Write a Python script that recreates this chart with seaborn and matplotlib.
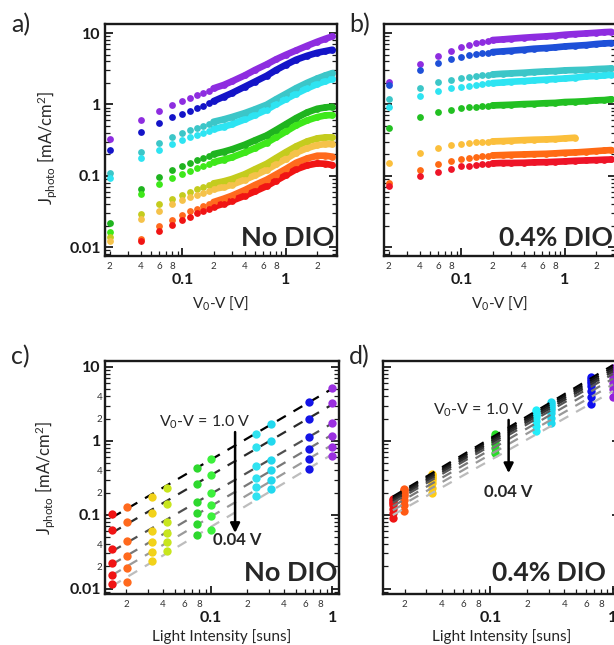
import numpy as np
import pandas as pd
import seaborn as sns
import matplotlib
matplotlib.use("Agg")
import matplotlib.pyplot as plt
from matplotlib.ticker import LogLocator, FuncFormatter

sns.set_theme(style="white")
plt.rcParams["font.family"] = ["Lato", "DejaVu Sans"]
plt.rcParams["mathtext.fontset"] = "custom"
plt.rcParams["mathtext.rm"] = "Lato"
plt.rcParams["mathtext.it"] = "Lato:italic"
plt.rcParams["mathtext.bf"] = "Lato:bold"

nan = np.nan

# ---------------------------------------------------------------- data
# effective bias V0-V [V] shared by panels a) and b)
V_GRID = [0.02, 0.04, 0.06, 0.08, 0.10, 0.12, 0.14, 0.16, 0.18, 0.20, 0.25, 0.30,
          0.40, 0.50, 0.65, 0.80, 1.00, 1.25, 1.60, 2.00, 2.40, 2.80]
DENSE_FROM = 0.20  # above this bias the measured points merge into a band

# a) photocurrent, no DIO (one list per light intensity, high to low)
a_purple = [0.327, 0.604, 0.815, 0.979, 1.11, 1.23, 1.34, 1.44, 1.55, 1.68, 1.87, 2.10,
            2.55, 3.03, 3.64, 4.28, 4.97, 5.71, 6.64, 7.56, 8.33, 8.98]
a_blue = [0.229, 0.405, 0.542, 0.658, 0.740, 0.815, 0.879, 0.948, 1.03, 1.11, 1.28, 1.44,
          1.77, 2.08, 2.52, 3.03, 3.60, 4.23, 4.81, 5.30, 5.59, 5.84]
a_teal = [0.110, 0.217, 0.290, 0.352, 0.392, 0.432, 0.461, 0.497, 0.530, 0.571, 0.616, 0.664,
          0.756, 0.851, 0.989, 1.18, 1.41, 1.69, 2.01, 2.31, 2.55, 2.75]
a_cyan = [0.0918, 0.177, 0.229, 0.275, 0.316, 0.345, 0.367, 0.392, 0.418, 0.451, 0.487, 0.525,
          0.616, 0.708, 0.842, 1.00, 1.19, 1.41, 1.68, 1.93, 2.12, 2.29]
a_green = [0.0219, 0.0650, 0.0968, 0.120, 0.138, 0.152, 0.166, 0.177, 0.189, 0.201, 0.217, 0.234,
           0.272, 0.313, 0.367, 0.437, 0.530, 0.643, 0.773, 0.869, 0.908, 0.927]
a_lime = [0.0164, 0.0547, 0.0773, 0.0927, 0.105, 0.117, 0.127, 0.137, 0.146, 0.155, 0.168, 0.181,
          0.212, 0.244, 0.290, 0.345, 0.418, 0.508, 0.597, 0.664, 0.702, 0.708]
a_olive = [0.0137, 0.0287, 0.0396, 0.0466, 0.0536, 0.0597, 0.0643, 0.0686, 0.0732, 0.0781, 0.0834, 0.0898,
           0.105, 0.123, 0.147, 0.177, 0.215, 0.258, 0.303, 0.334, 0.345, 0.345]
a_amber = [0.0123, 0.0244, 0.0323, 0.0396, 0.0451, 0.0497, 0.0536, 0.0571, 0.0610, 0.0650, 0.0693, 0.0748,
           0.0879, 0.101, 0.121, 0.144, 0.173, 0.210, 0.244, 0.269, 0.278, 0.278]
a_orange = [nan, 0.0129, 0.0199, 0.0239, 0.0284, 0.0316, 0.0345, 0.0376, 0.0401, 0.0428, 0.0476, 0.0524,
            0.0630, 0.0740, 0.0879, 0.104, 0.125, 0.152, 0.175, 0.191, 0.191, 0.185]
a_red = [nan, 0.0123, 0.0168, 0.0203, 0.0239, 0.0266, 0.0296, 0.0323, 0.0345, 0.0367, 0.0405, 0.0446,
         0.0524, 0.0603, 0.0716, 0.0851, 0.102, 0.123, 0.140, 0.149, 0.147, 0.141]
A_SERIES = [a_purple, a_blue, a_teal, a_cyan, a_green, a_lime, a_olive, a_amber, a_orange, a_red]
A_COLORS = ["#8e2de0", "#1414c8", "#3cc6c8", "#2ee4f2", "#1fb41f", "#3ee81a",
            "#c4cc1e", "#f5c24a", "#ff6a1e", "#f01414"]

# b) photocurrent, 0.4% DIO
b_purple = [2.08, 3.64, 4.81, 5.65, 6.30, 6.86, 7.16, 7.48, 7.73, 7.98, 8.15, 8.33,
            8.60, 8.79, 8.98, 9.18, 9.48, 9.68, 9.89, 10.1, 10.3, 10.4]
b_blue = [1.87, 3.03, 3.76, 4.32, 4.66, 4.92, 5.08, 5.19, 5.30, 5.42, 5.54, 5.65,
          5.84, 6.03, 6.16, 6.30, 6.50, 6.64, 6.79, 7.02, 7.16, 7.24]
b_teal = [1.19, 1.68, 2.03, 2.19, 2.31, 2.42, 2.50, 2.55, 2.61, 2.63, 2.69, 2.72,
          2.78, 2.84, 2.90, 2.93, 3.00, 3.03, 3.06, 3.13, 3.16, 3.20]
b_cyan = [0.908, 1.31, 1.55, 1.68, 1.77, 1.83, 1.89, 1.93, 1.97, 1.99, 2.03, 2.08,
          2.12, 2.17, 2.22, 2.27, 2.31, 2.37, 2.47, 2.50, 2.55, 2.61]
b_green = [0.471, 0.664, 0.781, 0.842, 0.879, 0.908, 0.927, 0.948, 0.958, 0.968, 0.979, 0.989,
           1.01, 1.02, 1.04, 1.05, 1.08, 1.09, 1.11, 1.14, 1.15, 1.18]
b_amber = [0.152, 0.210, 0.247, 0.266, 0.281, 0.287, 0.293, 0.296, 0.300, 0.303, 0.306, 0.310,
           0.316, 0.320, 0.323, 0.327, 0.334, 0.341, nan, nan, nan, nan]
b_orange = [0.0798, 0.121, 0.146, 0.159, 0.169, 0.177, 0.183, 0.187, 0.191, 0.193, 0.195, 0.197,
            0.199, 0.201, 0.203, 0.206, 0.210, 0.212, 0.217, 0.222, 0.226, 0.229]
b_red = [0.0708, 0.098, 0.114, 0.125, 0.135, 0.138, 0.141, 0.144, 0.147, 0.149, 0.151, 0.151,
         0.152, 0.154, 0.155, 0.157, 0.159, 0.162, 0.164, 0.166, 0.168, 0.169]
B_SERIES = [b_purple, b_blue, b_teal, b_cyan, b_green, b_amber, b_orange, b_red]
B_COLORS = ["#8e2de0", "#1e50d8", "#3cc6c8", "#2ee4f2", "#22c022", "#fbbf3c", "#ff6a14", "#ee1428"]

# c) photocurrent vs light intensity, no DIO; each row: V0-V = 1.0 V ... 0.04 V
C_INTENSITY = [0.0152, 0.0202, 0.0325, 0.0433, 0.0766, 0.100, 0.235, 0.313, 0.645, 1.0]
C_J = [
    [0.102, 0.0626, 0.0343, 0.0222, 0.0155, 0.0117],
    [0.126, 0.0796, 0.0437, 0.0273, 0.0188, 0.0123],
    [0.173, 0.107, 0.0608, 0.0423, 0.0313, 0.0234],
    [0.230, 0.141, 0.0796, 0.0565, 0.0423, 0.0326],
    [0.428, 0.262, 0.149, 0.105, 0.0755, 0.0537],
    [0.565, 0.347, 0.200, 0.136, 0.0949, 0.0626],
    [1.24, 0.813, 0.450, 0.313, 0.234, 0.177],
    [1.68, 1.01, 0.553, 0.405, 0.297, 0.222],
    [3.40, 1.98, 1.14, 0.771, 0.565, 0.418],
    [5.15, 3.23, 1.73, 1.17, 0.822, 0.614],
]
C_COLORS = ["#f01414", "#ff6a1e", "#f2d21a", "#c8e61e", "#2ed82e", "#3cf03c",
            "#30e2f0", "#22d8ee", "#1414e6", "#9a30e0"]
C_GREYS = ["#000000", "#2a2a2a", "#505050", "#787878", "#9a9a9a", "#bdbdbd"]

# d) photocurrent vs light intensity, 0.4% DIO; each row: V0-V = 1.0 V ... 0.04 V
D_INTENSITY = [0.0160, 0.0197, 0.0335, 0.108, 0.234, 0.310, 0.660, 1.0]
D_J = [
    [0.165, 0.157, 0.150, 0.143, 0.135, 0.121, 0.106, 0.091],
    [0.226, 0.214, 0.202, 0.191, 0.179, 0.157, 0.135, 0.113],
    [0.360, 0.344, 0.327, 0.313, 0.294, 0.265, 0.233, 0.200],
    [1.22, 1.16, 1.11, 1.06, 1.00, 0.90, 0.79, 0.68],
    [2.60, 2.47, 2.34, 2.22, 2.08, 1.85, 1.60, 1.35],
    [3.30, 3.13, 2.98, 2.82, 2.65, 2.36, 2.05, 1.73],
    [7.30, 6.82, 6.37, 5.96, 5.48, 4.71, 3.91, 3.14],
    [9.80, 9.10, 8.45, 7.85, 7.16, 6.07, 4.95, 3.90],
]
D_COLORS = ["#ee1414", "#ff5a14", "#ffcc14", "#28dc28", "#22eefa", "#1ed8ee", "#1010ee", "#9422dc"]
D_GREYS = ["#000000", "#111111", "#222222", "#333333", "#555555", "#777777", "#999999", "#bbbbbb"]

BIAS_XLIM = (0.018, 3.1)
BIAS_YLIM = (0.0075, 13.4)
SUNS_XLIM = (0.0133, 1.14)
SUNS_YLIM = (0.0085, 12.0)

# ---------------------------------------------------------------- helpers
def fmt_major(v, pos):
    return f"{v:g}"


def minor_fmt(keep):
    def f(v, pos):
        if v <= 0:
            return ""
        d = int(round(v / 10 ** np.floor(np.log10(v) + 1e-9)))
        return str(d) if d in keep else ""
    return FuncFormatter(f)


def style_axes(ax, xlim, ylim, ylabels, ysubs):
    ax.set_xscale("log")
    ax.set_yscale("log")
    ax.set_xlim(*xlim)
    ax.set_ylim(*ylim)
    ax.set_facecolor("white")
    for s in ax.spines.values():
        s.set_linewidth(1.7)
        s.set_color("#1a1a1a")
    for axis in (ax.xaxis, ax.yaxis):
        axis.set_major_locator(LogLocator(base=10, numticks=12))
        axis.set_minor_locator(LogLocator(base=10, subs=np.arange(2, 10), numticks=40))
    ax.xaxis.set_major_formatter(FuncFormatter(fmt_major))
    ax.xaxis.set_minor_formatter(minor_fmt((2, 4, 6, 8)))
    ax.tick_params(which="both", direction="in", left=True, right=True,
                   bottom=True, top=False, colors="#1a1a1a")
    ax.tick_params(which="major", length=6, width=1.3)
    ax.tick_params(which="minor", length=3.5, width=0.9)
    ax.tick_params(axis="x", which="major", pad=12.5, labelsize=11.5)
    ax.tick_params(axis="x", which="minor", pad=4, labelsize=7, labelcolor="#333333")
    if ylabels:
        ax.yaxis.set_major_formatter(FuncFormatter(fmt_major))
        ax.yaxis.set_minor_formatter(minor_fmt(ysubs))
        ax.tick_params(axis="y", which="major", pad=3, labelsize=11.5)
        ax.tick_params(axis="y", which="minor", pad=2, labelsize=7, labelcolor="#333333")
    else:
        ax.tick_params(axis="y", which="both", labelleft=False)
    ax.grid(False)


def bold_major_labels(ax):
    for lab in ax.xaxis.get_majorticklabels() + ax.yaxis.get_majorticklabels():
        lab.set_fontweight("bold")


def draw_bias_panel(ax, series, colors):
    for vals, col in zip(series, colors):
        df = pd.DataFrame({"bias": V_GRID, "j": vals}).dropna()
        dense = df[df["bias"] >= DENSE_FROM]
        sns.lineplot(data=dense, x="bias", y="j", color=col, linewidth=4.8,
                     estimator=None, sort=True, ax=ax, legend=False,
                     solid_capstyle="round", solid_joinstyle="round")
        sns.scatterplot(data=df, x="bias", y="j", color=col, s=24, linewidth=0,
                        ax=ax, legend=False, zorder=3)


def draw_suns_panel(ax, intensity, jtable, colors, greys, lines_on_top):
    jt = np.array(jtable)
    x = np.array(intensity)
    fit_z = 4 if lines_on_top else 2
    for k, g in enumerate(greys):
        slope, icpt = np.polyfit(np.log10(x), np.log10(jt[:, k]), 1)
        xs = np.array([x.min(), x.max()])
        fit = pd.DataFrame({"suns": xs, "j": 10 ** (icpt + slope * np.log10(xs))})
        sns.lineplot(data=fit, x="suns", y="j", color=g, linewidth=1.6,
                     estimator=None, ax=ax, legend=False, zorder=fit_z)
        ax.lines[-1].set_linestyle((0, (4.6, 4.0)))
    for i, col in enumerate(colors):
        pts = pd.DataFrame({"suns": np.repeat(x[i], jt.shape[1]), "j": jt[i]})
        sns.scatterplot(data=pts, x="suns", y="j", color=col, s=36, linewidth=0,
                        ax=ax, legend=False, zorder=3)


# ---------------------------------------------------------------- figure
fig = plt.figure(figsize=(6.14, 6.45), dpi=100)
fig.patch.set_facecolor("white")
ax_a = fig.add_axes([0.1710, 0.6031, 0.3779, 0.3597])
ax_b = fig.add_axes([0.6254, 0.6031, 0.3779, 0.3597])
ax_c = fig.add_axes([0.1710, 0.0791, 0.3811, 0.3612])
ax_d = fig.add_axes([0.6238, 0.0791, 0.3860, 0.3612])

style_axes(ax_a, BIAS_XLIM, BIAS_YLIM, True, ())
style_axes(ax_b, BIAS_XLIM, BIAS_YLIM, False, ())
style_axes(ax_c, SUNS_XLIM, SUNS_YLIM, True, (2, 4))
style_axes(ax_d, SUNS_XLIM, SUNS_YLIM, False, ())

draw_bias_panel(ax_a, A_SERIES, A_COLORS)
draw_bias_panel(ax_b, B_SERIES, B_COLORS)
draw_suns_panel(ax_c, C_INTENSITY, C_J, C_COLORS, C_GREYS, lines_on_top=False)
draw_suns_panel(ax_d, D_INTENSITY, D_J, D_COLORS, D_GREYS, lines_on_top=True)

for ax, xlim, ylim in ((ax_a, BIAS_XLIM, BIAS_YLIM), (ax_b, BIAS_XLIM, BIAS_YLIM),
                       (ax_c, SUNS_XLIM, SUNS_YLIM), (ax_d, SUNS_XLIM, SUNS_YLIM)):
    ax.set_xlim(*xlim)
    ax.set_ylim(*ylim)
    ax.set_xlabel("")
    ax.set_ylabel("")

# axis titles
ylab = r"J$_{\rm photo}$ [mA/cm$^{2}$]"
ax_a.set_ylabel(ylab, fontsize=12)
ax_a.yaxis.set_label_coords(-0.2, 0.465)
ax_c.set_ylabel(ylab, fontsize=12)
ax_c.yaxis.set_label_coords(-0.205, 0.5)
for ax in (ax_a, ax_b):
    ax.set_xlabel(r"V$_0$-V [V]", fontsize=11)
    ax.xaxis.set_label_coords(0.5, -0.165)
    ax.xaxis.label.set_va("top")
for ax in (ax_c, ax_d):
    ax.set_xlabel("Light Intensity [suns]", fontsize=11)
    ax.xaxis.set_label_coords(0.5, -0.152)
    ax.xaxis.label.set_va("top")

# sample names
ax_a.text(0.99, 0.045, "No DIO", transform=ax_a.transAxes, ha="right", va="baseline",
          fontsize=19.5, fontweight="bold", zorder=6)
ax_b.text(0.985, 0.045, "0.4% DIO", transform=ax_b.transAxes, ha="right", va="baseline",
          fontsize=19, fontweight="bold", zorder=6)
ax_c.text(0.995, 0.056, "No DIO", transform=ax_c.transAxes, ha="right", va="baseline",
          fontsize=19.5, fontweight="bold", zorder=6)
ax_d.text(0.94, 0.056, "0.4% DIO", transform=ax_d.transAxes, ha="right", va="baseline",
          fontsize=19, fontweight="bold", zorder=6)

# bias direction arrows
arrow = dict(arrowstyle="-|>", lw=1.8, color="black", mutation_scale=14, shrinkA=0, shrinkB=0)
ax_c.annotate("", xy=(0.556, 0.262), xytext=(0.556, 0.695), xycoords="axes fraction",
              arrowprops=arrow, zorder=6)
ax_c.text(0.427, 0.738, r"V$_0$-V = 1.0 V", transform=ax_c.transAxes, ha="center",
          va="center", fontsize=11.5, zorder=6)
ax_c.text(0.462, 0.232, "0.04 V", transform=ax_c.transAxes, ha="left", va="center",
          fontsize=12, fontweight="bold", zorder=6)
ax_d.annotate("", xy=(0.530, 0.519), xytext=(0.530, 0.747), xycoords="axes fraction",
              arrowprops=arrow, zorder=6)
ax_d.text(0.402, 0.790, r"V$_0$-V = 1.0 V", transform=ax_d.transAxes, ha="center",
          va="center", fontsize=11.5, zorder=6)
ax_d.text(0.530, 0.438, "0.04 V", transform=ax_d.transAxes, ha="center", va="center",
          fontsize=12, fontweight="bold", zorder=6)

# panel letters
for lab, x, y in (("a)", 0.018, 0.962), ("b)", 0.568, 0.962),
                  ("c)", 0.018, 0.447), ("d)", 0.568, 0.447)):
    fig.text(x, y, lab, fontsize=18, ha="left", va="center")

for ax in (ax_a, ax_b, ax_c, ax_d):
    bold_major_labels(ax)

fig.savefig("out.png", dpi=100, facecolor="white")
